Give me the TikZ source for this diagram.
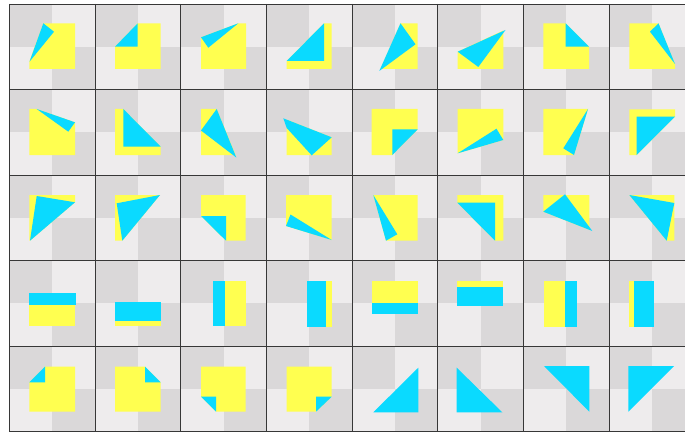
\documentclass[tikz,border=0pt]{standalone}
\definecolor{chkD}{RGB}{218,216,217}
\definecolor{chkL}{RGB}{238,236,237}
\definecolor{yel}{RGB}{255,255,80}
\definecolor{cyn}{RGB}{10,218,255}
\definecolor{gridc}{RGB}{55,55,55}
\tikzset{
  yfill/.style={fill=yel},
  cfill/.style={fill=cyn},
  gridline/.style={draw=gridc, line width=0.9pt}
}
\newcommand\Ypoly[1]{\fill[yfill] #1 -- cycle;}
\newcommand\Cpoly[1]{\fill[cfill] #1 -- cycle;}
\begin{document}
\begin{tikzpicture}[x=1pt,y=-1pt]
\useasboundingbox (0,0) rectangle (685,433);
\clip (0,0) rectangle (685,433);
\fill[white] (0,0) rectangle (685,433);
% checker backgrounds
\foreach \c in {0,...,7} \foreach \r in {0,...,4} {
  \pgfmathsetmacro\xa{9.3+85.7*\c}
  \pgfmathsetmacro\ya{4+85.55*\r}
  \fill[chkL] (\xa,\ya) rectangle ++(85.7,85.55);
  \fill[chkD] (\xa,\ya) rectangle ++(42.85,42.78);
  \fill[chkD] (\xa+42.85,\ya+42.78) rectangle ++(42.85,42.77);
}
% grid
\foreach \c in {0,...,8} \draw[gridline] (9.3+85.7*\c,4) -- (9.3+85.7*\c,431.75);
\foreach \r in {0,...,5} \draw[gridline] (9.3,4+85.55*\r) -- (700,4+85.55*\r);

% ---------- row 1 ----------
\Ypoly{(43.3,23.3) -- (75,23.3) -- (75,69) -- (29.3,69) -- (29.3,61.7)}
\Cpoly{(43.3,23.3) -- (54,31.7) -- (29.5,61.7)}
\Ypoly{(137.7,23.3) -- (160.7,23.3) -- (160.7,69) -- (115,69) -- (115,46.7)}
\Cpoly{(137.7,23.3) -- (137.7,46.7) -- (115,46.7)}
\Ypoly{(238.3,23.3) -- (246,23.3) -- (246,69) -- (201,69) -- (201,37.3)}
\Cpoly{(238.3,23.3) -- (208.3,47.7) -- (201,37.3)}
\Ypoly{(324,23.3) -- (331.7,23.3) -- (331.7,69) -- (286.7,69) -- (286.7,61)}
\Cpoly{(324,23.3) -- (324,61) -- (286.7,61)}
\Ypoly{(400.5,23.3) -- (417.7,23.3) -- (417.7,69) -- (380.5,69)}
\Cpoly{(400.5,23.3) -- (415.5,44.3) -- (379.3,71)}
\Ypoly{(457.7,51.7) -- (503.3,30.5) -- (503.3,69) -- (457.7,69)}
\Cpoly{(457.7,51.7) -- (478.3,67) -- (505.5,30)}
\Ypoly{(543.3,23.3) -- (565.7,23.3) -- (589,46.7) -- (589,69) -- (543.3,69)}
\Cpoly{(565.7,23.3) -- (565.7,46.7) -- (589,46.7)}
\Ypoly{(629.3,23.3) -- (658.5,23.3) -- (675,64) -- (675,69) -- (629.3,69)}
\Cpoly{(658.5,23.3) -- (650,31.7) -- (675,64)}

% ---------- row 2 ----------
\Ypoly{(29.3,109) -- (36.7,109) -- (75,122.3) -- (75,155) -- (29.3,155)}
\Cpoly{(36.7,109) -- (75,122.3) -- (68.3,131.7)}
\Ypoly{(115,109) -- (123.3,109) -- (160.7,146.7) -- (160.7,155) -- (115,155)}
\Cpoly{(123.3,109) -- (160.7,146.7) -- (123.3,146.7)}
\Ypoly{(201,109) -- (216.7,109) -- (235.6,155) -- (201,155)}
\Cpoly{(216.7,109) -- (201,130.5) -- (236.3,157.5)}
\Ypoly{(286.7,119.6) -- (331.7,137.3) -- (331.7,155) -- (286.7,155)}
\Cpoly{(283.3,118.3) -- (331.7,137.3) -- (311.7,155.3) -- (286.7,128)}
\Ypoly{(371.7,109) -- (417.7,109) -- (417.7,129.3) -- (392.3,155) -- (371.7,155)}
\Cpoly{(417.7,129.3) -- (392.3,129.3) -- (392.3,155)}
\Ypoly{(457.7,109) -- (503.3,109) -- (503.3,140) -- (457.7,153.3)}
\Cpoly{(457.7,153.3) -- (496.5,128.7) -- (503.3,140)}
\Ypoly{(543.3,109) -- (588,109) -- (574,155) -- (543.3,155)}
\Cpoly{(588,109) -- (563.3,148.3) -- (574,155)}
\Ypoly{(629.3,109.5) -- (675,109.5) -- (675,116.7) -- (636.7,155) -- (629.3,155)}
\Cpoly{(675,116.7) -- (636.7,116.7) -- (636.7,155)}

% ---------- row 3 ----------
\Ypoly{(29.3,195) -- (75,195) -- (75,202.3) -- (30,240.7) -- (29.3,240.7)}
\Cpoly{(75,202.3) -- (36.7,196) -- (30,240.7)}
\Ypoly{(115,195) -- (160,195) -- (122.3,240.7) -- (115,240.7)}
\Cpoly{(160,195) -- (116.7,203.3) -- (122.3,240.7)}
\Ypoly{(201,195) -- (245.7,195) -- (245.7,240.7) -- (226,240.7) -- (201,216)}
\Cpoly{(201,216) -- (226,216) -- (226,240.7)}
\Ypoly{(286,195) -- (331.7,195) -- (331.7,240) -- (286,226)}
\Cpoly{(286,226) -- (290.5,214.5) -- (331.7,240)}
\Ypoly{(373.3,195) -- (417.7,195) -- (417.7,240.7) -- (386,240.7)}
\Cpoly{(373.3,195) -- (397.3,234.3) -- (386,240.7)}
\Ypoly{(457.3,195) -- (503.3,195) -- (503.3,240.7) -- (495,240.7) -- (457.3,202.7)}
\Cpoly{(457.3,202.7) -- (495,202.7) -- (495,240.7)}
\Ypoly{(543.3,195) -- (589.3,195) -- (589.3,229.8) -- (543.3,211.7)}
\Cpoly{(543.3,211.7) -- (565,194.3) -- (592.3,231)}
\Ypoly{(629.3,195) -- (674.3,195) -- (674.3,240.7) -- (666.7,240.7)}
\Cpoly{(629.3,195) -- (674.3,203) -- (666.7,240.7)}

% ---------- row 4 ----------
\Ypoly{(29.3,293.3) -- (75,293.3) -- (75,326) -- (29.3,326)}
\Cpoly{(29.3,293.3) -- (75.5,293.3) -- (75.5,305) -- (29.3,305)}
\Ypoly{(115,301.7) -- (160.7,301.7) -- (160.7,326) -- (115,326)}
\Cpoly{(115,301.7) -- (160.7,301.7) -- (160.7,320.7) -- (115,320.7)}
\Ypoly{(213.3,280.7) -- (245.7,280.7) -- (245.7,326) -- (213.3,326)}
\Cpoly{(213.3,280.7) -- (224.5,280.7) -- (224.5,326) -- (213.3,326)}
\Ypoly{(306.7,281) -- (331.7,281) -- (331.7,326.5) -- (306.7,326.5)}
\Cpoly{(306.7,281) -- (326,281) -- (326,326.5) -- (306.7,326.5)}
\Ypoly{(371.7,281) -- (417.7,281) -- (417.7,314.3) -- (371.7,314.3)}
\Cpoly{(371.7,302.7) -- (417.7,302.7) -- (417.7,314.3) -- (371.7,314.3)}
\Ypoly{(457.3,281) -- (503.3,281) -- (503.3,306) -- (457.3,306)}
\Cpoly{(457.3,286.7) -- (503.3,286.7) -- (503.3,306) -- (457.3,306)}
\Ypoly{(544,280.7) -- (576.7,280.7) -- (576.7,326.5) -- (544,326.5)}
\Cpoly{(565,280.7) -- (576.7,280.7) -- (576.7,326.5) -- (565,326.5)}
\Ypoly{(629.3,280.7) -- (654,280.7) -- (654,326.5) -- (629.3,326.5)}
\Cpoly{(634.3,280.7) -- (654,280.7) -- (654,326.5) -- (634.3,326.5)}

% ---------- row 5 ----------
\Ypoly{(45,366.5) -- (75,366.5) -- (75,411.7) -- (29.3,411.7) -- (29.3,382.3)}
\Cpoly{(45,366.5) -- (45,382.3) -- (29.3,382.3)}
\Ypoly{(115,366.5) -- (145,366.5) -- (160.7,382.3) -- (160.7,411.7) -- (115,411.7)}
\Cpoly{(145,366.5) -- (145,382.3) -- (160.7,382.3)}
\Ypoly{(201,366.7) -- (245.7,366.7) -- (245.7,411.7) -- (216,411.7) -- (201,396.7)}
\Cpoly{(201,396.7) -- (216,396.7) -- (216,411.7)}
\Ypoly{(286.7,366.7) -- (331.7,366.7) -- (331.7,396.7) -- (316,411.7) -- (286.7,411.7)}
\Cpoly{(331.7,396.7) -- (316,396.7) -- (316,411.7)}
\Cpoly{(373.3,412.3) -- (418.3,367.7) -- (418.3,412.3)}
\Cpoly{(456.7,367.7) -- (456.7,412.3) -- (502.3,412.3)}
\Cpoly{(544,366) -- (589.3,366) -- (589.3,411.7)}
\Cpoly{(628.3,366) -- (674,366) -- (628.3,411.7)}
\end{tikzpicture}
\end{document}
